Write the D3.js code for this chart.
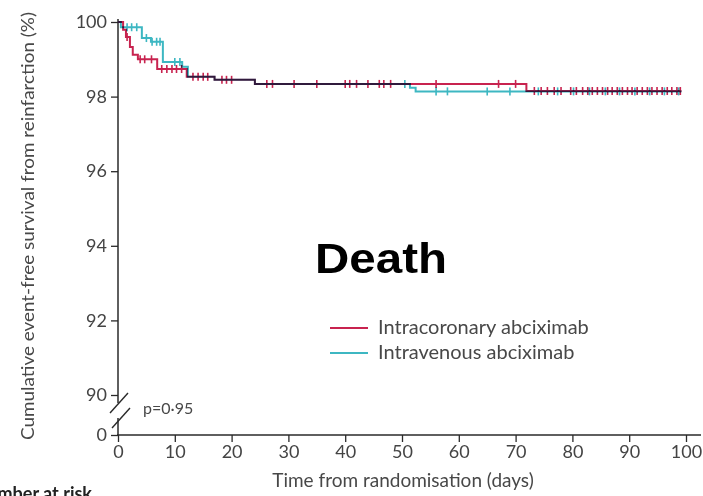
<!DOCTYPE html>
<html>
<head>
<meta charset="utf-8">
<script src="https://cdn.jsdelivr.net/npm/d3@7"></script>
<style>
  html, body { margin: 0; padding: 0; background: #fff; }
  svg { display: block; }
  .tick text { font-family: Lato, "Open Sans", sans-serif; fill: #444; }
</style>
</head>
<body>
<svg id="chart" width="703" height="496"></svg>
<script>
// Kaplan-Meier step points (day, % event-free)
const icTimes  = [0, 0.9, 1.4, 2.1, 2.6, 3.5, 6.9, 12.1, 17.0, 24.1, 71.9, 99.2];
const icValues = [100, 99.79, 99.6, 99.33, 99.12, 99.0, 98.74, 98.53, 98.45, 98.34, 98.15, 98.15];
const ivTimes  = [0, 0.5, 4.2, 5.8, 7.9, 11.3, 12.3, 17.0, 24.1, 51.4, 52.4, 99.2];
const ivValues = [100, 99.86, 99.57, 99.47, 98.93, 98.8, 98.53, 98.45, 98.34, 98.24, 98.14, 98.14];

// Censoring times (days)
const icCensor = [1.6, 3.9, 4.7, 5.9, 7.7, 8.6, 9.5, 10.3, 11.2, 13.2, 14.1, 15.0, 15.8,
  18.3, 19.1, 20.0, 26.2, 27.2, 31.0, 35.0, 40.0, 40.8, 42.0, 44.0, 46.0, 46.8, 48.0,
  56.0, 67.0, 70.0, 73.3, 74.5, 75.6, 76.8, 78.0, 79.7, 80.7, 81.8, 82.7, 83.5, 84.4,
  85.3, 86.2, 87.0, 87.9, 88.8, 89.7, 90.5, 91.4, 92.3, 93.2, 94.0, 94.9, 95.8, 96.7,
  97.5, 98.4, 99.0];
const ivCensor = [1.6, 2.4, 3.3, 5.0, 6.0, 6.8, 7.4, 10.0, 10.9, 50.5, 56.0, 58.0, 65.0,
  69.0, 74.0, 77.4, 80.2, 83.0, 85.8, 88.3, 91.0, 93.6, 96.2, 98.7];

const xTicks = [0, 10, 20, 30, 40, 50, 60, 70, 80, 90, 100];
const yTicks = [0, 90, 92, 94, 96, 98, 100];

const groups = [
  { name: "Intracoronary abciximab", color: "#c8234f", times: icTimes, values: icValues, censor: icCensor },
  { name: "Intravenous abciximab",   color: "#3db7c2", times: ivTimes, values: ivValues, censor: ivCensor }
];

const svg = d3.select("#chart");
const W = 703, H = 496;
const font = "Lato, 'Open Sans', sans-serif";
const textColor = "#484848";

const x = d3.scaleLinear().domain([0, 100]).range([118, 686]);
// broken axis: 0–90 compressed into a short stub
const y = d3.scaleLinear().domain([0, 90, 100]).range([435, 395, 22]);

const axisColor = "#2a2a2a";

// x axis
const gx = svg.append("g").attr("transform", `translate(0,${y(0)})`)
  .call(d3.axisBottom(x).tickValues(xTicks).tickSize(7).tickPadding(3));
gx.select(".domain").remove();
gx.selectAll(".tick line").attr("stroke", axisColor).attr("stroke-width", 1.3);
gx.selectAll(".tick text").attr("font-size", 18).attr("fill", textColor);
svg.append("line")
  .attr("x1", x(0) - 1).attr("x2", W - 2)
  .attr("y1", y(0)).attr("y2", y(0))
  .attr("stroke", axisColor).attr("stroke-width", 1.5);

// y axis
const gy = svg.append("g").attr("transform", `translate(${x(0)},0)`)
  .call(d3.axisLeft(y).tickValues(yTicks).tickSize(7).tickPadding(4));
gy.select(".domain").remove();
gy.selectAll(".tick line").attr("stroke", axisColor).attr("stroke-width", 1.3);
gy.selectAll(".tick text").attr("font-size", 18).attr("fill", textColor);

// y axis line with break marks between 90 and 0
const brkTop = y(90) + 8, brkBot = y(0) - 17;
svg.append("line").attr("x1", x(0)).attr("x2", x(0))
  .attr("y1", y(100) - 3).attr("y2", brkTop)
  .attr("stroke", axisColor).attr("stroke-width", 1.5);
svg.append("line").attr("x1", x(0)).attr("x2", x(0))
  .attr("y1", brkBot).attr("y2", y(0))
  .attr("stroke", axisColor).attr("stroke-width", 1.5);
[brkTop, brkBot].forEach((cy, i) => {
  svg.append("line")
    .attr("x1", x(0) - 8 + i * 2).attr("y1", cy + 10)
    .attr("x2", x(0) + 10 + i * 2).attr("y2", cy - 10)
    .attr("stroke", axisColor).attr("stroke-width", 1.4);
});

// survival curves
const line = d3.line().curve(d3.curveStepAfter)
  .x(d => x(d[0])).y(d => y(d[1]));

function survAt(g, t) {
  let v = g.values[0];
  for (let i = 0; i < g.times.length; i++) if (g.times[i] <= t) v = g.values[i];
  return v;
}

const plot = svg.append("g").style("isolation", "isolate");
groups.slice().reverse().forEach(g => {
  const grp = plot.append("g").style("mix-blend-mode", "multiply");
  grp.append("path")
    .datum(g.times.map((t, i) => [t, g.values[i]]))
    .attr("d", line)
    .attr("fill", "none")
    .attr("stroke", g.color)
    .attr("stroke-width", 2);
  grp.selectAll("line.censor").data(g.censor).join("line")
    .attr("class", "censor")
    .attr("x1", d => x(d)).attr("x2", d => x(d))
    .attr("y1", d => y(survAt(g, d)) - 4)
    .attr("y2", d => y(survAt(g, d)) + 4)
    .attr("stroke", g.color).attr("stroke-width", 1.6);
});

// legend
const legend = svg.append("g");
groups.forEach((g, i) => {
  const ly = 328 + i * 25;
  legend.append("line")
    .attr("x1", 330).attr("x2", 368).attr("y1", ly).attr("y2", ly)
    .attr("stroke", g.color).attr("stroke-width", 2);
  legend.append("text")
    .attr("x", 378).attr("y", ly + 6)
    .attr("font-family", font)
    .attr("font-size", 20).attr("fill", textColor)
    .text(g.name);
});

// titles and annotations
svg.append("text")
  .attr("x", 315).attr("y", 273)
  .attr("font-family", "'Liberation Sans', Arial, sans-serif")
  .attr("font-weight", "bold").attr("font-size", 43).attr("fill", "#000")
  .attr("textLength", 132).attr("lengthAdjust", "spacingAndGlyphs")
  .text("Death");

svg.append("text")
  .attr("x", 143).attr("y", 414)
  .attr("font-family", font)
  .attr("font-size", 16).attr("fill", textColor)
  .text("p=0·95");

svg.append("text")
  .attr("transform", "translate(34,226) rotate(-90)")
  .attr("text-anchor", "middle")
  .attr("font-family", font)
  .attr("font-size", 18).attr("fill", textColor)
  .attr("textLength", 428).attr("lengthAdjust", "spacingAndGlyphs")
  .text("Cumulative event-free survival from reinfarction (%)");

svg.append("text")
  .attr("x", 403).attr("y", 487)
  .attr("text-anchor", "middle")
  .attr("font-family", font)
  .attr("font-size", 19).attr("fill", textColor)
  .text("Time from randomisation (days)");

svg.append("text")
  .attr("x", 92).attr("y", 500)
  .attr("text-anchor", "end")
  .attr("font-family", font)
  .attr("font-weight", "bold")
  .attr("font-size", 18).attr("fill", "#222")
  .text("Number at risk");
</script>
</body>
</html>
